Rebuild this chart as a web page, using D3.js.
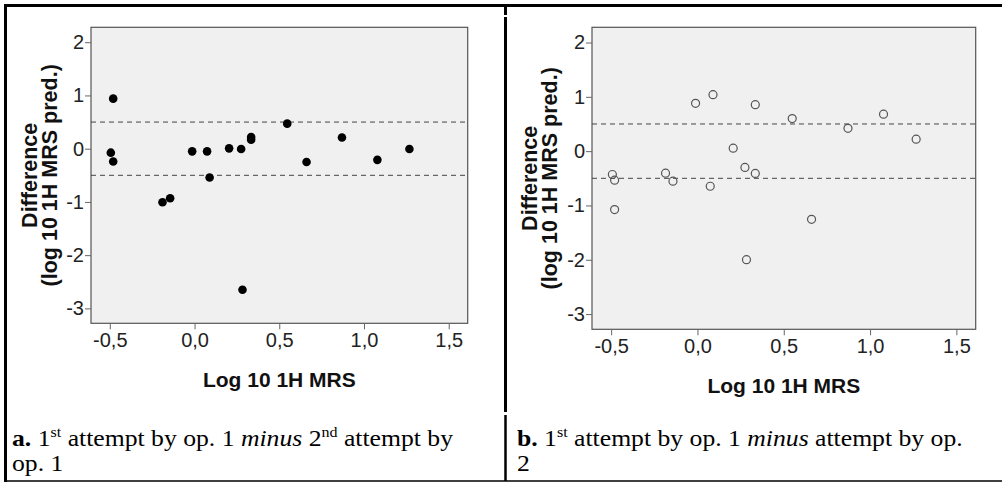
<!DOCTYPE html>
<html>
<head>
<meta charset="utf-8">
<script src="https://cdn.jsdelivr.net/npm/d3@7/dist/d3.min.js"></script>
<style>
  html, body { margin: 0; padding: 0; background: #fff; }
  svg { display: block; }
</style>
</head>
<body>
<svg id="chart" width="1002" height="484"></svg>
<script>
// ---------------- data ----------------
const xTicks = [-0.5, 0.0, 0.5, 1.0, 1.5];
const yTicks = [2, 1, 0, -1, -2, -3];
const xDomain = [-0.611, 1.612];
const yDomain = [-3.28, 2.28];
const limits = [0.5, -0.5];

// panel a: 1st attempt op.1 minus 2nd attempt op.1
const xA = [-0.48, -0.494, -0.48, -0.189, -0.144, -0.014, 0.074, 0.089, 0.204, 0.275, 0.283, 0.334, 0.334, 0.547, 0.661, 0.87, 1.079, 1.268];
const yA = [0.94, -0.075, -0.24, -1.007, -0.93, -0.05, -0.05, -0.54, 0.006, -0.006, -2.65, 0.22, 0.17, 0.47, -0.25, 0.21, -0.21, -0.006];

// panel b: 1st attempt op.1 minus attempt op.2
const xB = [-0.493, -0.48, -0.48, -0.185, -0.142, -0.011, 0.074, 0.09, 0.207, 0.275, 0.284, 0.335, 0.335, 0.549, 0.661, 0.872, 1.078, 1.267];
const yB = [-0.43, -0.535, -1.076, -0.406, -0.553, 0.88, -0.646, 1.04, 0.055, -0.30, -1.998, -0.41, 0.855, 0.60, -1.255, 0.42, 0.68, 0.22];

const xTitle = "Log 10 1H MRS";
const yTitle1 = "Difference";
const yTitle2 = "(log 10 1H MRS pred.)";

// ---------------- drawing ----------------
const svg = d3.select("#chart");
const fmt = v => {
  const s = Math.abs(v).toFixed(1).replace(".", ",");
  return (v < 0 ? "-" : "") + s;
};

function panel(cfg) {
  const x = d3.scaleLinear().domain(xDomain).range([cfg.left, cfg.right]);
  const y = d3.scaleLinear().domain(yDomain).range([cfg.bottom, cfg.top]);
  const g = svg.append("g");

  g.append("rect")
    .attr("x", cfg.left).attr("y", cfg.top)
    .attr("width", cfg.right - cfg.left).attr("height", cfg.bottom - cfg.top)
    .attr("fill", "#f0f0f0").attr("stroke", "#555").attr("stroke-width", 1.2);

  // reference lines
  g.selectAll("line.lim").data(limits).enter().append("line")
    .attr("x1", cfg.left).attr("x2", cfg.right)
    .attr("y1", d => y(d)).attr("y2", d => y(d))
    .attr("stroke", "#444").attr("stroke-width", 1)
    .attr("stroke-dasharray", "5,4");

  const xAxis = d3.axisBottom(x).tickValues(xTicks).tickFormat(fmt).tickSize(6).tickPadding(4);
  const yAxis = d3.axisLeft(y).tickValues(yTicks).tickFormat(d => d < 0 ? "-" + Math.abs(d) : String(d)).tickSize(6).tickPadding(1);

  const gx = g.append("g").attr("transform", `translate(0,${cfg.bottom})`).call(xAxis);
  const gy = g.append("g").attr("transform", `translate(${cfg.left},0)`).call(yAxis);
  [gx, gy].forEach(a => {
    a.select(".domain").remove();
    a.selectAll(".tick line").attr("stroke", "#666");
    a.selectAll(".tick text").attr("fill", "#222")
      .style("font-family", "'Liberation Sans', Arial, sans-serif").style("font-size", "20px");
  });

  // points
  const pts = cfg.xs.map((v, i) => ({ x: v, y: cfg.ys[i] }));
  const c = g.selectAll("circle.pt").data(pts).enter().append("circle")
    .attr("cx", d => x(d.x)).attr("cy", d => y(d.y));
  if (cfg.filled) {
    c.attr("r", 4.3).attr("fill", "#000");
  } else {
    c.attr("r", 4).attr("fill", "none").attr("stroke", "#555").attr("stroke-width", 1.2);
  }

  // titles
  g.append("text")
    .attr("x", (cfg.left + cfg.right) / 2 + cfg.xtOff).attr("y", cfg.bottom + 64)
    .attr("text-anchor", "middle")
    .style("font-family", "'Liberation Sans', Arial, sans-serif")
    .style("font-size", "21px").style("font-weight", "bold").attr("fill", "#111")
    .text(xTitle);

  const cy = (cfg.top + cfg.bottom) / 2;
  const yt = g.append("text")
    .attr("transform", `translate(${cfg.ylabX},${cy}) rotate(-90)`)
    .attr("text-anchor", "middle")
    .style("font-family", "'Liberation Sans', Arial, sans-serif")
    .style("font-size", "21.5px").style("font-weight", "bold").attr("fill", "#111");
  yt.append("tspan").attr("x", 0).attr("y", 0).text(yTitle1);
  yt.append("tspan").attr("x", 0).attr("y", 20).text(yTitle2);
}

panel({ left: 91, right: 467.7, top: 27.3, bottom: 323.3, xs: xA, ys: yA, filled: true, ylabX: 37, xtOff: 0 });
panel({ left: 592, right: 975.7, top: 27.3, bottom: 329.3, xs: xB, ys: yB, filled: false, ylabX: 537, xtOff: 0 });

// ---------------- frame ----------------
const frame = svg.append("g").attr("stroke", "#000");
frame.append("line").attr("x1", 4).attr("x2", 1002).attr("y1", 5.5).attr("y2", 5.5).attr("stroke-width", 3);
frame.append("line").attr("x1", 5.5).attr("x2", 5.5).attr("y1", 4).attr("y2", 482).attr("stroke-width", 3);
frame.append("line").attr("x1", 4).attr("x2", 1002).attr("y1", 481).attr("y2", 481).attr("stroke-width", 1.5);
frame.append("line").attr("x1", 505.5).attr("x2", 505.5).attr("y1", 4).attr("y2", 15).attr("stroke-width", 3);
frame.append("line").attr("x1", 505.5).attr("x2", 505.5).attr("y1", 17).attr("y2", 412).attr("stroke-width", 3);
frame.append("line").attr("x1", 505.5).attr("x2", 505.5).attr("y1", 415).attr("y2", 481).attr("stroke-width", 2.5);

// ---------------- captions ----------------
function caption(x0, y0, parts, line2) {
  const g = svg.append("g").attr("transform", `translate(${x0},${y0}) scale(1.07,1)`);
  const t = g.append("text").attr("x", 0).attr("y", 0)
    .style("font-family", "'Liberation Serif', 'Times New Roman', serif")
    .style("font-size", "24px").attr("fill", "#000");
  parts.forEach(p => {
    const ts = t.append("tspan").text(p.t);
    if (p.b) ts.style("font-weight", "bold");
    if (p.i) ts.style("font-style", "italic");
    if (p.sup) ts.style("font-size", "15px").attr("dy", -9);
    if (p.after) ts.attr("dy", 9);
  });
  g.append("text").attr("x", 0).attr("y", 25)
    .style("font-family", "'Liberation Serif', 'Times New Roman', serif")
    .style("font-size", "24px").attr("fill", "#000").text(line2);
}

caption(12, 446, [
  { t: "a.", b: true }, { t: " 1" }, { t: "st", sup: true }, { t: " attempt by op. 1 ", after: true },
  { t: "minus", i: true }, { t: " 2" }, { t: "nd", sup: true }, { t: " attempt by", after: true }
], "op. 1");

caption(517, 446, [
  { t: "b.", b: true }, { t: " 1" }, { t: "st", sup: true }, { t: " attempt by op. 1 ", after: true },
  { t: "minus", i: true }, { t: " attempt by op." }
], "2");
</script>
</body>
</html>
